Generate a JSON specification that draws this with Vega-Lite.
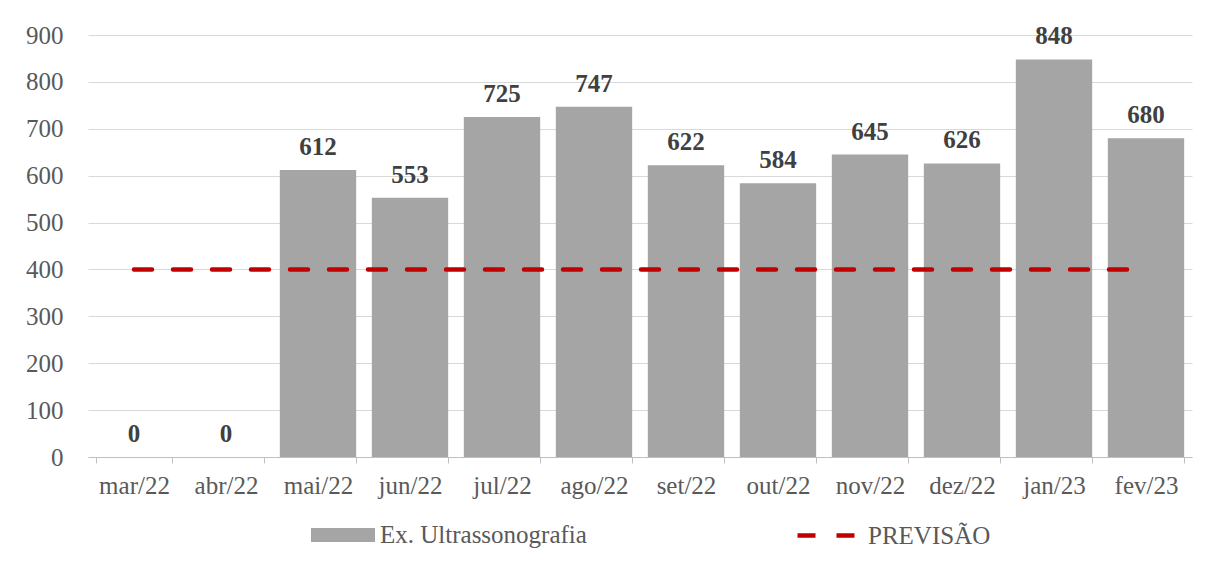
{
  "$schema": "https://vega.github.io/schema/vega-lite/v6.json",
  "width": 1104,
  "height": 422,
  "autosize": "none",
  "padding": {"left": 88, "top": 35, "right": 13, "bottom": 105},
  "background": "white",
  "config": {
    "view": {"stroke": null},
    "font": "Liberation Serif"
  },
  "data": {
    "values": [
      {"mes": "mar/22", "exames": 0, "previsao": 400},
      {"mes": "abr/22", "exames": 0, "previsao": 400},
      {"mes": "mai/22", "exames": 612, "previsao": 400},
      {"mes": "jun/22", "exames": 553, "previsao": 400},
      {"mes": "jul/22", "exames": 725, "previsao": 400},
      {"mes": "ago/22", "exames": 747, "previsao": 400},
      {"mes": "set/22", "exames": 622, "previsao": 400},
      {"mes": "out/22", "exames": 584, "previsao": 400},
      {"mes": "nov/22", "exames": 645, "previsao": 400},
      {"mes": "dez/22", "exames": 626, "previsao": 400},
      {"mes": "jan/23", "exames": 848, "previsao": 400},
      {"mes": "fev/23", "exames": 680, "previsao": 400}
    ]
  },
  "encoding": {
    "x": {
      "field": "mes",
      "type": "nominal",
      "sort": null,
      "title": null,
      "scale": {"paddingInner": 0.17, "paddingOuter": 0.085},
      "axis": {
        "labelAngle": 0,
        "labelFont": "Liberation Serif",
        "labelFontSize": 25,
        "labelColor": "#595959",
        "labelBaseline": "top",
        "labelPadding": 10,
        "tickBand": "extent",
        "tickExtra": false,
        "tickOffset": 7.8,
        "tickSize": 6,
        "tickColor": "#BFBFBF",
        "domainColor": "#BFBFBF",
        "grid": false
      }
    }
  },
  "layer": [
    {
      "mark": {"type": "bar"},
      "encoding": {
        "y": {
          "field": "exames",
          "type": "quantitative",
          "title": null,
          "scale": {"domain": [0, 900], "nice": false},
          "axis": {
            "values": [0, 100, 200, 300, 400, 500, 600, 700, 800, 900],
            "labelFont": "Liberation Serif",
            "labelFontSize": 25,
            "labelColor": "#595959",
            "labelPadding": 25,
            "ticks": false,
            "domain": false,
            "gridColor": "#D9D9D9",
            "gridWidth": 1
          }
        },
        "fill": {
          "datum": "Ex. Ultrassonografia",
          "type": "nominal",
          "scale": {"range": ["#A5A5A5"]},
          "legend": {
            "title": null,
            "orient": "none",
            "legendX": 223,
            "legendY": 468,
            "symbolType": "M-1,-0.22H1V0.22H-1Z",
            "symbolSize": 4096,
            "symbolStrokeWidth": 0,
            "labelFont": "Liberation Serif",
            "labelFontSize": 25,
            "labelColor": "#595959",
            "labelOffset": 5,
            "labelLimit": 400
          }
        }
      }
    },
    {
      "mark": {
        "type": "text",
        "baseline": "alphabetic",
        "dy": -15,
        "font": "Liberation Serif",
        "fontSize": 25,
        "fontWeight": "bold",
        "color": "#404040"
      },
      "encoding": {
        "y": {"field": "exames", "type": "quantitative"},
        "text": {"field": "exames", "type": "quantitative"}
      }
    },
    {
      "mark": {
        "type": "line",
        "strokeDash": [18, 21],
        "strokeWidth": 4.5,
        "strokeCap": "round"
      },
      "encoding": {
        "y": {"field": "previsao", "type": "quantitative"},
        "stroke": {
          "datum": "PREVISÃO",
          "type": "nominal",
          "scale": {"range": ["#C00000"]},
          "legend": {
            "title": null,
            "orient": "none",
            "legendX": 707,
            "legendY": 468,
            "symbolType": "stroke",
            "symbolSize": 3600,
            "symbolStrokeWidth": 4.5,
            "symbolDash": [18, 21],
            "labelFont": "Liberation Serif",
            "labelFontSize": 25,
            "labelColor": "#595959",
            "labelOffset": 8,
            "labelLimit": 400
          }
        }
      }
    }
  ]
}
